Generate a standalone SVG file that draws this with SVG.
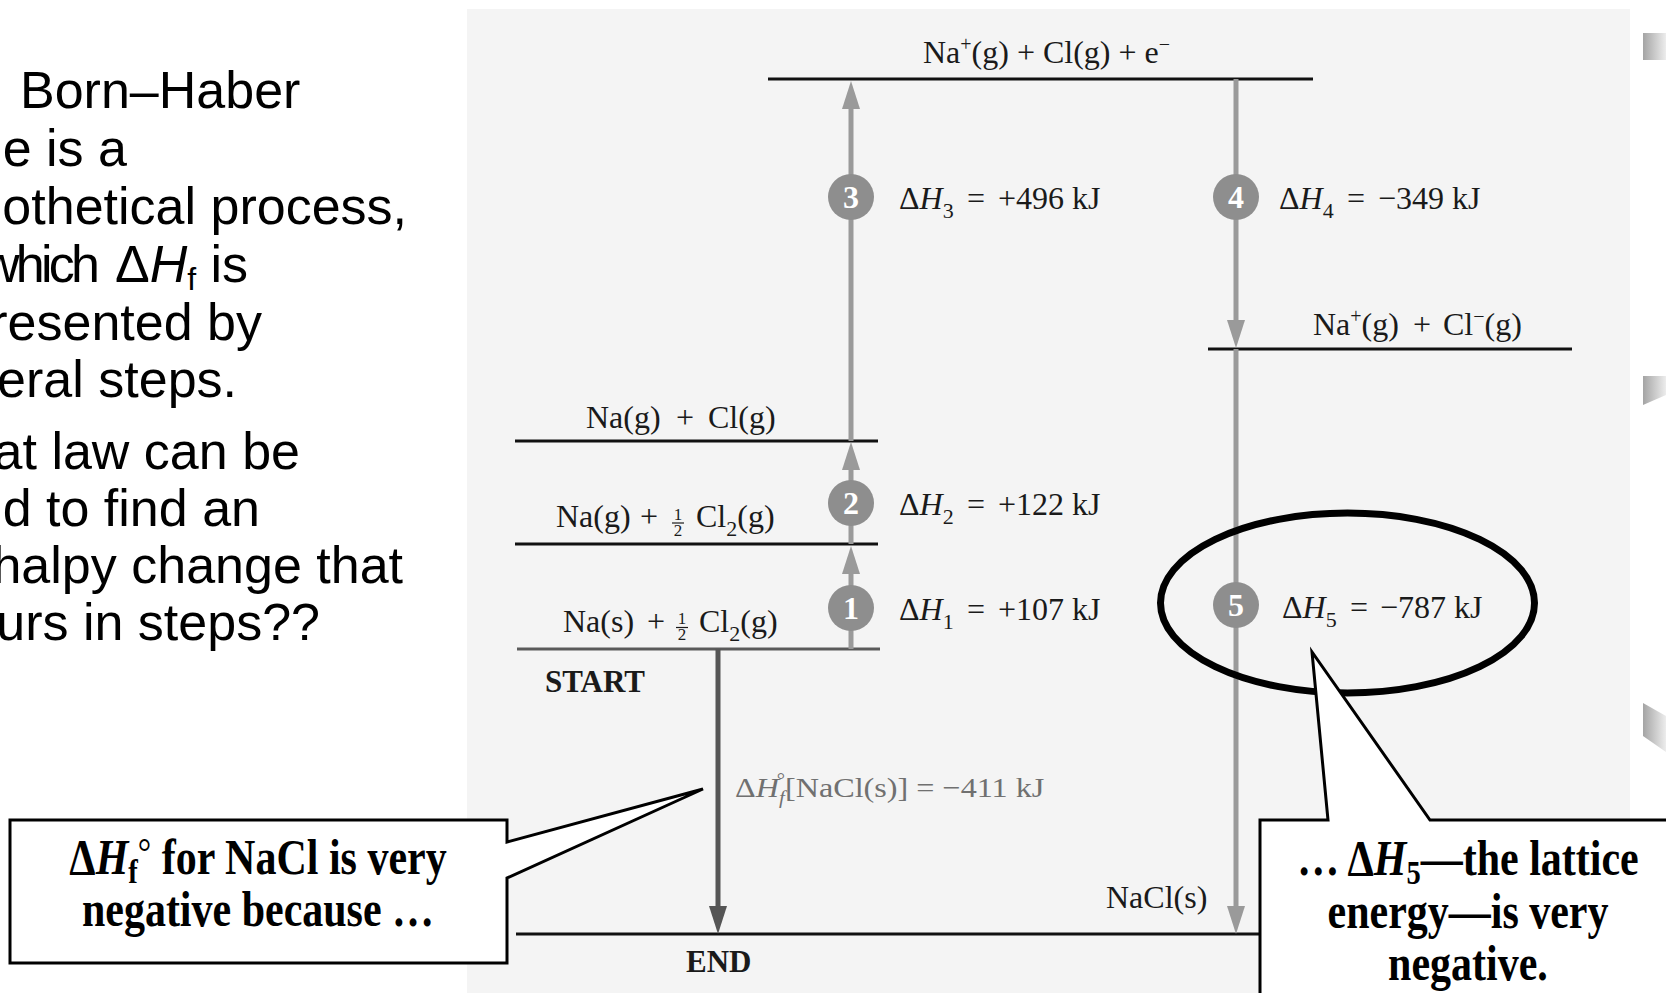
<svg xmlns="http://www.w3.org/2000/svg" width="1666" height="993" viewBox="0 0 1666 993">
<defs>
<marker id="ahGray" viewBox="0 0 28 18" refX="14" refY="9" markerWidth="28" markerHeight="18" markerUnits="userSpaceOnUse" orient="auto"><path d="M0,0 L28,9 L0,18 Z" fill="#9a9a9a"/></marker>
<marker id="ahDark" viewBox="0 0 28 18" refX="14" refY="9" markerWidth="28" markerHeight="18" markerUnits="userSpaceOnUse" orient="auto"><path d="M0,0 L28,9 L0,18 Z" fill="#555555"/></marker>
<linearGradient id="deco" x1="0" x2="1" y1="0" y2="0"><stop offset="0" stop-color="#a4a4a4"/><stop offset="1" stop-color="#ededed"/></linearGradient>
</defs>
<style>
.bul{font-family:"Liberation Sans",Arial,sans-serif;font-size:52px;fill:#000}
.lbl{font-family:"Liberation Serif","Times New Roman",serif;font-size:32px;fill:#1a1a1a}
.lvl{stroke:#111;stroke-width:3}
.arr{stroke:#9a9a9a;stroke-width:5;fill:none;marker-end:url(#ahGray)}
.arrd{stroke:#555;stroke-width:5;fill:none;marker-end:url(#ahDark)}
.numc{fill:#8e8e8e}
.num{font-family:"Liberation Serif","Times New Roman",serif;font-weight:bold;font-size:32px;fill:#fff;text-anchor:middle}
.bold{font-family:"Liberation Serif","Times New Roman",serif;font-weight:bold;font-size:31px;fill:#1a1a1a}
.cbox{fill:#fff;stroke:#000;stroke-width:3}
.ctext{font-family:"Liberation Serif","Times New Roman",serif;font-weight:bold;font-size:50px;fill:#000;text-anchor:middle}
.frac{font-family:"Liberation Serif","Times New Roman",serif;font-size:17px;fill:#1a1a1a;text-anchor:middle}
.fbar{stroke:#1a1a1a;stroke-width:1.2}
</style>
<rect width="1666" height="993" fill="#ffffff"/>

<g id="bullets">
<text class="bul" x="20" y="108">Born–Haber</text>
<text class="bul" x="127" y="166" text-anchor="end">e is a</text>
<text class="bul" x="407" y="224" text-anchor="end">othetical process,</text>
<text class="bul" x="-18" y="282" textLength="118" lengthAdjust="spacing">which</text>
<text class="bul" x="115" y="282">Δ<tspan font-style="italic">H</tspan><tspan font-size="32" dy="8">f</tspan></text>
<text class="bul" x="248" y="282" text-anchor="end">is</text>
<text class="bul" x="262" y="340" text-anchor="end">resented by</text>
<text class="bul" x="237" y="397" text-anchor="end">eral steps.</text>
<text class="bul" x="300" y="469" text-anchor="end">at law can be</text>
<text class="bul" x="260" y="526" text-anchor="end">d to find an</text>
<text class="bul" x="403" y="583" text-anchor="end">halpy change that</text>
<text class="bul" x="320" y="640" text-anchor="end">urs in steps??</text>
</g>

<g id="deco-right">
<rect x="1643" y="33" width="23" height="27" fill="url(#deco)"/>
<path d="M1643,376 H1666 V395 L1643,405 Z" fill="url(#deco)"/>
<path d="M1643,703 L1666,716 V752 L1643,736 Z" fill="url(#deco)"/>
</g>

<rect id="panel" x="467" y="9" width="1163" height="984" fill="#f4f4f4"/>

<g id="level-top">
<line class="lvl" x1="768" y1="79" x2="1313" y2="79"/>
<text class="lbl" x="923" y="63">Na<tspan font-size="20" dy="-12">+</tspan><tspan dy="12">(g) + Cl(g) + e</tspan><tspan font-size="20" dy="-12">−</tspan></text>
</g>
<g id="level-ions">
<line class="lvl" x1="1208" y1="349" x2="1572" y2="349"/>
<text class="lbl" x="1313" y="335">Na<tspan font-size="20" dy="-12">+</tspan><tspan dy="12">(g)</tspan><tspan x="1413">+</tspan><tspan x="1443">Cl</tspan><tspan font-size="20" dy="-12">−</tspan><tspan dy="12">(g)</tspan></text>
</g>
<g id="level-atoms">
<line class="lvl" x1="515" y1="441" x2="878" y2="441"/>
<text class="lbl" x="586" y="428">Na(g)<tspan x="676">+</tspan><tspan x="708">Cl(g)</tspan></text>
</g>
<g id="level-nag">
<line class="lvl" x1="515" y1="544" x2="878" y2="544"/>
<text class="lbl" x="556" y="527">Na(g)<tspan x="640">+</tspan><tspan x="696">Cl</tspan><tspan font-size="22" dy="9">2</tspan><tspan dy="-9">(g)</tspan></text>
<text class="frac" x="678" y="520">1</text>
<line class="fbar" x1="672" y1="523" x2="684" y2="523"/>
<text class="frac" x="678" y="536">2</text>
</g>
<g id="level-start">
<line x1="517" y1="649" x2="880" y2="649" stroke="#5a5a5a" stroke-width="3"/>
<text class="lbl" x="563" y="632">Na(s)<tspan x="647">+</tspan><tspan x="699">Cl</tspan><tspan font-size="22" dy="9">2</tspan><tspan dy="-9">(g)</tspan></text>
<text class="frac" x="682" y="624">1</text>
<line class="fbar" x1="676" y1="627.5" x2="688" y2="627.5"/>
<text class="frac" x="682" y="640">2</text>
<text class="bold" x="545" y="692">START</text>
</g>
<g id="level-end">
<line class="lvl" x1="516" y1="934" x2="1300" y2="934"/>
<text class="bold" x="686" y="972">END</text>
<text class="lbl" x="1106" y="908">NaCl(s)</text>
</g>

<g id="connectors">
<path class="arr" d="M851,649 V560"/>
<path class="arr" d="M851,544 V456"/>
<path class="arr" d="M851,441 V95"/>
<path class="arr" d="M1236,79 V334"/>
<path class="arr" d="M1236,349 V920"/>
<path class="arrd" d="M718,649 V920"/>
</g>

<g id="step1"><circle class="numc" cx="851" cy="608" r="23"/><text class="num" x="851" y="619">1</text>
<text class="lbl" x="899" y="620">Δ<tspan font-style="italic">H</tspan><tspan font-size="22" dy="9">1</tspan><tspan x="967" dy="-9">=</tspan><tspan x="998">+107 kJ</tspan></text></g>
<g id="step2"><circle class="numc" cx="851" cy="503" r="23"/><text class="num" x="851" y="514">2</text>
<text class="lbl" x="899" y="515">Δ<tspan font-style="italic">H</tspan><tspan font-size="22" dy="9">2</tspan><tspan x="967" dy="-9">=</tspan><tspan x="998">+122 kJ</tspan></text></g>
<g id="step3"><circle class="numc" cx="851" cy="197" r="23"/><text class="num" x="851" y="208">3</text>
<text class="lbl" x="899" y="209">Δ<tspan font-style="italic">H</tspan><tspan font-size="22" dy="9">3</tspan><tspan x="967" dy="-9">=</tspan><tspan x="998">+496 kJ</tspan></text></g>
<g id="step4"><circle class="numc" cx="1236" cy="197" r="23"/><text class="num" x="1236" y="208">4</text>
<text class="lbl" x="1279" y="209">Δ<tspan font-style="italic">H</tspan><tspan font-size="22" dy="9">4</tspan><tspan x="1347" dy="-9">=</tspan><tspan x="1378">−349 kJ</tspan></text></g>
<g id="step5"><circle class="numc" cx="1236" cy="605" r="23"/><text class="num" x="1236" y="616">5</text>
<text class="lbl" x="1282" y="618">Δ<tspan font-style="italic">H</tspan><tspan font-size="22" dy="9">5</tspan><tspan x="1350" dy="-9">=</tspan><tspan x="1380">−787 kJ</tspan></text></g>
<g id="formation-label">
<text class="lbl" transform="translate(735,0) scale(1.15,1)" x="0" y="797" style="fill:#707070;font-size:28px">Δ<tspan font-style="italic">H</tspan><tspan font-style="italic" font-size="18" dy="7">f</tspan><tspan font-size="18" dx="-7" dy="-18">°</tspan><tspan dy="11">[NaCl(s)] = −411 kJ</tspan></text>
</g>

<ellipse id="highlight" cx="1347.5" cy="603" rx="187" ry="90" fill="none" stroke="#000" stroke-width="7"/>

<g id="callout-left">
<path class="cbox" d="M10,820 H507 V842 L703,789 L507,878 V963 H10 Z"/>
<g transform="translate(258,0) scale(0.84,1)">
<text class="ctext" x="0" y="874">Δ<tspan font-style="italic">H</tspan><tspan font-size="34" dy="9">f</tspan><tspan font-weight="normal" font-size="40" dy="-17">°</tspan><tspan dy="8"> for NaCl is very</tspan></text>
<text class="ctext" x="0" y="926">negative because …</text>
</g>
</g>

<g id="callout-right">
<path class="cbox" d="M1260,820 H1328 L1312,652 L1430,820 H1690 V1010 H1260 Z"/>
<g transform="translate(1468,0) scale(0.84,1)">
<text class="ctext" x="0" y="875">… Δ<tspan font-style="italic">H</tspan><tspan font-size="34" dy="9">5</tspan><tspan dy="-9">—the lattice</tspan></text>
<text class="ctext" x="0" y="928">energy—is very</text>
<text class="ctext" x="0" y="980">negative.</text>
</g>
</g>
</svg>
